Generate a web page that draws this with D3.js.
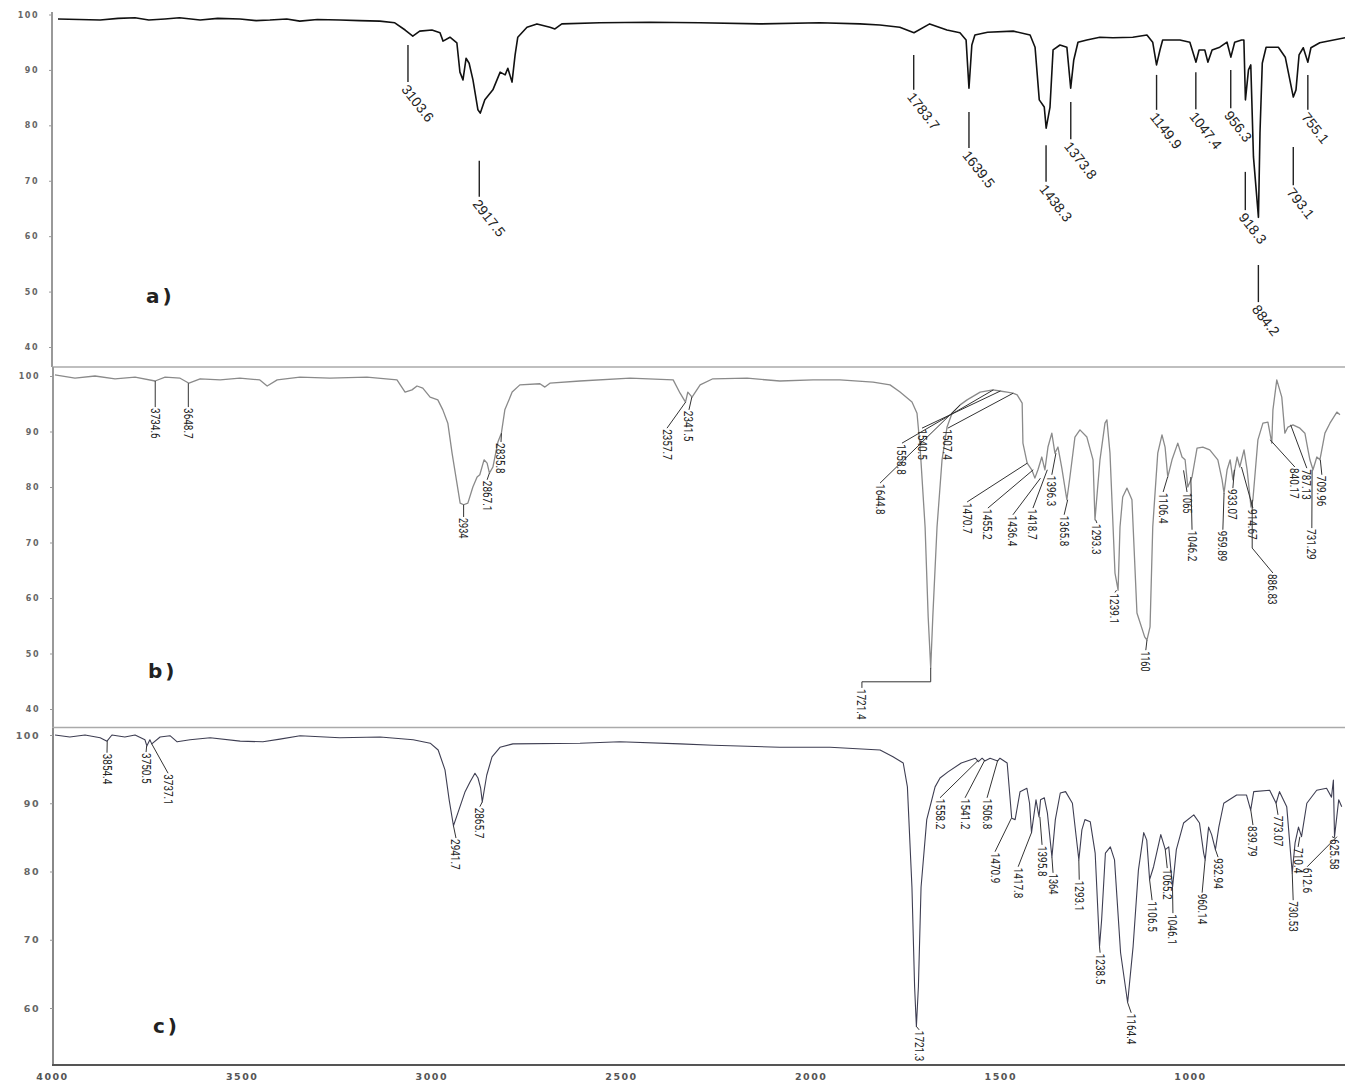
<!DOCTYPE html>
<html>
<head>
<meta charset="utf-8">
<script src="https://cdn.jsdelivr.net/npm/d3@7"></script>
<style>
  body { margin: 0; background: #fff; }
  .tick-y text { font-family: 'DejaVu Sans', Verdana, sans-serif; font-weight: bold; fill: #666; }
  .tick-x text { font-family: 'DejaVu Sans', Verdana, sans-serif; font-weight: bold; fill: #555; }
  .pk { font-family: 'Liberation Sans Narrow', 'Arial Narrow', Roboto, sans-serif; font-size: 13px; fill: #222; }
  .pka { font-family: 'Liberation Sans', Arial, sans-serif; font-size: 14px; fill: #222; }
  .panel-name { font-family: 'DejaVu Sans', Verdana, sans-serif; font-weight: bold; font-size: 20px; fill: #222; letter-spacing: 3px; }
</style>
</head>
<body>
<div id="graf"></div>
<script>
// I. Datos
wavenumberTicks = [4000, 3500, 3000, 2500, 2000, 1500, 1000]
ticksA = [100, 90, 80, 70, 60, 50, 40]
ticksB = [100, 90, 80, 70, 60, 50, 40]
ticksC = [100, 90, 80, 70, 60]

// [wavenumber, %T]
spectrumA = [
  [4017,99.2],[3907,99.0],[3860,99.3],[3816,99.4],[3780,99.0],[3738,99.2],[3700,99.4],[3646,99.0],[3600,99.3],
  [3542,99.2],[3500,98.9],[3464,99.0],[3420,99.2],[3386,98.8],[3340,99.1],[3281,99.0],[3230,98.9],[3177,98.8],
  [3138,98.5],[3111,97.2],[3091,96.1],[3073,97.0],[3041,97.2],[3020,96.7],[3012,95.2],[2994,95.9],[2976,94.9],
  [2968,89.6],[2960,88.2],[2952,92.1],[2944,91.2],[2934,88.2],[2921,82.8],[2915,82.2],[2903,84.6],[2882,86.4],
  [2863,89.6],[2850,89.1],[2843,90.3],[2832,87.8],[2824,92.7],[2817,95.9],[2793,97.7],[2767,98.3],[2733,97.7],
  [2720,97.4],[2702,98.3],[2603,98.5],[2472,98.6],[2342,98.5],[2185,98.3],[2029,98.5],[1924,98.3],[1872,98.1],
  [1820,97.7],[1783,96.7],[1742,98.3],[1697,97.2],[1663,96.7],[1647,95.4],[1639.5,86.7],[1632,94.5],[1624,96.3],
  [1591,96.8],[1524,97.0],[1480,96.3],[1467,94.1],[1456,84.6],[1443,83.3],[1438,79.5],[1428,83.3],[1420,93.6],
  [1402,94.5],[1384,94.1],[1374,86.7],[1366,91.8],[1355,95.0],[1332,95.4],[1298,95.9],[1264,95.8],[1212,95.9],
  [1175,96.3],[1160,95.0],[1150,90.9],[1141,93.6],[1134,95.4],[1089,95.4],[1063,95.0],[1047,91.4],[1039,93.6],
  [1024,93.6],[1016,91.4],[1005,93.6],[985,94.1],[966,95.0],[956,92.3],[946,95.0],[928,95.4],[922,95.4],
  [918,84.6],[910,90.0],[904,90.9],[897,74.3],[884,63.4],[880,78.6],[874,91.2],[864,94.1],[832,94.1],
  [814,92.3],[793,85.1],[786,86.4],[778,92.7],[767,94.0],[755,91.4],[747,94.0],[724,94.9],[658,95.8]
]

spectrumB = [
  [3995,100.2],[3943,99.6],[3891,100.0],[3839,99.5],[3787,99.8],[3735,99.1],[3709,99.8],[3670,99.6],[3647,98.7],
  [3618,99.5],[3566,99.3],[3515,99.6],[3463,99.3],[3444,98.2],[3418,99.3],[3359,99.8],[3281,99.6],[3185,99.8],
  [3107,99.3],[3086,97.1],[3068,97.5],[3055,98.2],[3040,97.8],[3021,96.2],[3001,95.7],[2988,93.9],[2975,91.5],
  [2964,86.1],[2943,77.1],[2934,76.8],[2923,77.1],[2910,80.0],[2899,81.8],[2892,82.2],[2881,84.9],[2873,84.3],
  [2867,82.5],[2858,83.6],[2845,88.1],[2836,89.7],[2827,93.9],[2808,97.1],[2788,98.4],[2736,98.6],[2723,98.0],
  [2710,98.7],[2632,99.1],[2502,99.6],[2390,99.3],[2372,96.9],[2358,95.3],[2352,97.1],[2341,96.2],[2320,98.4],
  [2287,99.5],[2198,99.6],[2113,99.1],[2027,99.3],[1957,99.3],[1871,98.9],[1827,98.4],[1801,97.1],[1770,95.3],
  [1757,93.3],[1749,87.2],[1736,72.8],[1728,56.6],[1721.4,47.4],[1716,56.6],[1705,72.8],[1692,84.9],[1679,90.8],
  [1666,93.3],[1645,94.8],[1627,95.7],[1593,97.1],[1560,97.5],[1542,97.3],[1523,97.1],[1508,96.9],[1497,96.6],
  [1484,95.1],[1482,87.9],[1471,84.3],[1459,83.1],[1451,81.6],[1443,83.1],[1433,85.4],[1425,83.1],[1417,87.2],
  [1407,89.7],[1399,86.1],[1391,87.2],[1381,83.4],[1368,77.7],[1360,81.8],[1347,89.0],[1334,90.3],[1316,89.0],
  [1300,84.9],[1295,74.1],[1282,84.9],[1269,91.5],[1264,92.1],[1256,86.1],[1243,64.5],[1235,61.4],[1230,72.8],
  [1223,78.2],[1212,79.8],[1199,77.7],[1186,57.3],[1166,53.0],[1160,52.4],[1152,54.8],[1145,72.8],[1132,86.1],
  [1121,89.4],[1113,87.2],[1106,81.8],[1095,84.9],[1080,87.9],[1069,85.4],[1061,84.9],[1054,80.0],[1043,81.8],
  [1030,87.0],[1015,87.2],[997,86.7],[976,84.9],[965,81.3],[960,78.9],[952,83.1],[944,84.9],[937,81.3],
  [926,85.4],[919,83.6],[908,86.7],[900,83.1],[890,76.4],[885,77.7],[872,88.5],[859,91.5],[846,91.7],
  [836,87.9],[833,93.9],[823,99.3],[810,96.2],[802,89.7],[794,90.8],[781,91.2],[763,90.6],[750,89.7],
  [742,86.7],[737,84.9],[729,83.1],[719,85.4],[711,84.9],[698,89.7],[685,91.5],[667,93.5],[659,93.0]
]

spectrumC = [
  [3992,100.0],[3953,99.7],[3913,100.0],[3873,99.6],[3855,99.1],[3842,100.0],[3808,99.7],[3781,100.0],[3755,99.3],
  [3750,98.4],[3742,99.3],[3737,98.7],[3715,99.7],[3689,99.9],[3670,99.0],[3636,99.3],[3583,99.6],[3504,99.1],
  [3444,99.0],[3399,99.4],[3346,99.9],[3241,99.6],[3135,99.7],[3048,99.3],[3003,98.8],[2982,97.8],[2964,94.9],
  [2953,90.5],[2941.7,86.7],[2930,88.6],[2911,91.7],[2898,93.1],[2885,94.4],[2877,93.7],[2870,92.2],[2865.7,90.2],
  [2854,94.1],[2840,96.8],[2819,98.2],[2785,98.7],[2608,98.8],[2503,99.0],[2344,98.7],[2257,98.5],[2081,98.2],
  [1949,98.2],[1817,97.8],[1783,96.8],[1756,95.9],[1745,92.4],[1733,77.7],[1726,63.1],[1721.3,57.3],[1716,63.1],
  [1709,77.7],[1694,87.6],[1672,92.4],[1659,93.7],[1638,94.6],[1603,95.9],[1566,96.6],[1558,96.1],[1548,96.6],
  [1541,96.2],[1527,96.6],[1507,96.2],[1501,96.6],[1482,95.9],[1470,87.8],[1461,87.6],[1448,91.7],[1430,92.2],
  [1423,90.0],[1417.8,85.7],[1406,90.5],[1398,88.0],[1394,90.5],[1384,90.8],[1376,88.6],[1364,82.1],[1355,87.6],
  [1342,91.5],[1328,91.7],[1310,90.0],[1300,85.1],[1293,81.7],[1285,86.1],[1277,87.6],[1263,87.3],[1250,82.7],
  [1238.5,69.0],[1233,72.9],[1223,82.7],[1210,83.6],[1199,81.7],[1183,68.1],[1164.4,60.8],[1150,69.0],[1136,80.2],
  [1122,85.7],[1114,84.6],[1106.5,78.8],[1096,80.7],[1088,82.7],[1077,85.4],[1065,83.2],[1056,83.6],[1046,77.7],
  [1036,83.2],[1017,87.1],[990,88.3],[975,87.1],[964,82.7],[960,81.7],[951,86.5],[943,85.4],[933,83.2],
  [924,86.5],[911,90.0],[877,91.2],[851,91.2],[840,89.0],[832,91.7],[790,91.9],[773,90.0],[764,91.7],
  [745,89.5],[730.5,79.8],[723,84.2],[714,86.5],[706,85.1],[692,90.0],[666,91.9],[640,92.2],[627,90.9],
  [622,93.4],[619,85.1],[608,90.5],[600,89.5]
]

// peak labels a): [text, wavenumber, %T top of tick, %T bottom of tick]
peaksA = [
  ['3103.6', 3103.6, 94.5, 87.8], ['2917.5', 2917.5, 73.6, 67.1], ['1783.7', 1783.7, 92.7, 86.4],
  ['1639.5', 1639.5, 82.4, 75.9], ['1438.3', 1438.3, 76.4, 69.8], ['1373.8', 1373.8, 84.2, 77.5],
  ['1149.9', 1149.9, 89.1, 82.8], ['1047.4', 1047.4, 89.6, 82.9], ['956.3', 956.3, 90.0, 83.1],
  ['918.3', 918.3, 71.6, 64.7], ['884.2', 884.2, 54.8, 48.1], ['793.1', 793.1, 76.1, 69.2],
  ['755.1', 755.1, 89.1, 82.8]
]

// peak labels b), c): [text, peak wn, peak %T, label wn, label %T, elbow points]
peaksB = [
  ['3734.6', 3734.6, 99.1, 3734.6, 94.4], ['3648.7', 3648.7, 98.7, 3648.7, 94.4],
  ['2934', 2934, 76.8, 2934, 74.6], ['2867.1', 2867.1, 82.5, 2873, 81.3], ['2835.8', 2835.8, 89.7, 2837, 88.1],
  ['2357.7', 2357.7, 95.3, 2406, 90.6], ['2341.5', 2341.5, 96.2, 2349, 93.9],
  ['1721.4', 1721.4, 47.4, 1900, 43.8, [[1721.4, 44.9], [1900, 44.9]]],
  ['1644.8', 1644.8, 94.8, 1853, 80.7], ['1558.8', 1558.8, 97.5, 1796, 87.9],
  ['1540.5', 1540.5, 97.3, 1744, 90.6], ['1507.4', 1507.4, 96.9, 1677, 90.6],
  ['1470.7', 1470.7, 84.3, 1627, 77.3], ['1455.2', 1455.2, 83.1, 1573, 76.2],
  ['1436.4', 1436.4, 81.6, 1508, 75.0], ['1418.7', 1418.7, 83.1, 1456, 76.2],
  ['1396.3', 1396.3, 86.1, 1407, 82.2], ['1365.8', 1365.8, 77.7, 1375, 75.0],
  ['1293.3', 1293.3, 74.1, 1290, 73.5], ['1239.1', 1239.1, 61.4, 1243, 61.0],
  ['1160', 1160, 52.4, 1163, 50.6], ['1106.4', 1106.4, 81.8, 1118, 79.1],
  ['1065', 1065, 83.0, 1056, 79.1], ['1046.2', 1046.2, 81.8, 1043, 72.3],
  ['959.89', 959.89, 78.9, 963, 72.3], ['933.07', 933.07, 83.1, 937, 79.8],
  ['914.67', 914.67, 83.6, 885, 76.2],
  ['886.83', 886.83, 77.7, 833, 64.5, [[886.83, 69.0]]],
  ['840.17', 840.17, 88.5, 776, 83.6], ['787.13', 787, 91.2, 745, 83.4],
  ['731.29', 731.29, 83.1, 732, 72.6], ['709.96', 709.96, 84.9, 706, 82.2]
]

peaksC = [
  ['3854.4', 3854.4, 99.1, 3855, 97.4], ['3750.5', 3750.5, 98.4, 3752, 97.5], ['3737.1', 3737.1, 98.7, 3694, 94.4],
  ['2941.7', 2941.7, 86.7, 2935, 84.9], ['2865.7', 2865.7, 90.2, 2872, 89.5],
  ['1721.3', 1721.3, 57.3, 1714, 56.8],
  ['1558.2', 1558.2, 96.3, 1659, 90.8], ['1541.2', 1541.2, 96.3, 1593, 90.8], ['1506.8', 1506.8, 96.3, 1535, 90.8],
  ['1470.9', 1470.9, 87.8, 1514, 82.9], ['1417.8', 1417.8, 85.7, 1453, 80.7], ['1395.8', 1395.8, 88.0, 1390, 83.9],
  ['1364', 1364, 82.1, 1361, 79.8], ['1293.1', 1293.1, 81.7, 1292, 78.8], ['1238.5', 1238.5, 69.0, 1237, 68.1],
  ['1164.4', 1164.4, 60.8, 1155, 59.3], ['1106.5', 1106.5, 78.8, 1100, 75.8], ['1065.2', 1065.2, 83.2, 1060, 80.5],
  ['1046.1', 1046.1, 77.7, 1045, 73.9], ['960.14', 960.14, 81.7, 968, 76.9], ['932.94', 932.94, 83.2, 926, 82.1],
  ['839.79', 839.79, 89.0, 834, 86.8], ['773.07', 773.07, 90.0, 768, 88.3], ['730.53', 730.53, 79.8, 728, 75.8],
  ['710.4', 710.4, 85.1, 715, 83.6], ['625.58', 625.58, 85.1, 618, 84.9], ['612.6', 612.6, 85.1, 691, 80.7]
]

// II. Configuración
ancho_total = 1345
alto_total = 1085

svg = d3.select('#graf').append('svg')
  .attr('width', ancho_total)
  .attr('height', alto_total)
  .style('display', 'block')

xA = d3.scaleLinear().domain([4000, 1000]).range([64.5, 1214])
xB = d3.scaleLinear().domain([4000, 1000]).range([53, 1208.6])
xC = d3.scaleLinear().domain([4000, 1000]).range([52, 1190])
yA = d3.scaleLinear().domain([100, 40]).range([14.5, 347])
yB = d3.scaleLinear().domain([100, 40]).range([376, 709])
yC = d3.scaleLinear().domain([100, 60]).range([735, 1008])

// frames
frame = svg.append('g')
frame.append('line').attr('x1', 52).attr('x2', 52).attr('y1', 12).attr('y2', 367).attr('stroke', '#999').attr('stroke-width', 2)
frame.append('line').attr('x1', 52).attr('x2', 1345).attr('y1', 367).attr('y2', 367).attr('stroke', '#aaa').attr('stroke-width', 1.5)
frame.append('line').attr('x1', 53).attr('x2', 53).attr('y1', 367).attr('y2', 728).attr('stroke', '#999').attr('stroke-width', 2)
frame.append('line').attr('x1', 52).attr('x2', 1345).attr('y1', 727.5).attr('y2', 727.5).attr('stroke', '#aaa').attr('stroke-width', 1.5)
frame.append('line').attr('x1', 53).attr('x2', 53).attr('y1', 728).attr('y2', 1065).attr('stroke', '#888').attr('stroke-width', 2)
frame.append('line').attr('x1', 52).attr('x2', 1345).attr('y1', 1065).attr('y2', 1065).attr('stroke', '#555').attr('stroke-width', 2)

// III. Ejes
function yAxis(scale, ticks, xpos, size) {
  g = svg.append('g')
    .attr('class', 'tick-y')
    .attr('transform', `translate(${xpos}, 0)`)
    .call(d3.axisLeft(scale).tickValues(ticks).tickSize(3).tickPadding(10))
  g.select('.domain').remove()
  g.selectAll('line').attr('stroke', '#999')
  g.selectAll('text').style('font-size', size + 'px').style('letter-spacing', '1.5px')
}
yAxis(yA, ticksA, 52, 8)
yAxis(yB, ticksB, 53, 8)
yAxis(yC, ticksC, 53, 9.5)

xAxisGroup = svg.append('g')
  .attr('class', 'tick-x')
  .attr('transform', 'translate(0, 1065)')
  .call(d3.axisBottom(xC).tickValues(wavenumberTicks).tickFormat(d3.format('d')).tickSize(0).tickPadding(8))
xAxisGroup.select('.domain').remove()
xAxisGroup.selectAll('text').style('font-size', '9.5px').style('letter-spacing', '1.5px')

// IV. Espectros
function trace(data, x, y, color, width) {
  line = d3.line().x(d => x(d[0])).y(d => y(d[1]))
  svg.append('path')
    .datum(data)
    .attr('d', line)
    .attr('fill', 'none')
    .attr('stroke', color)
    .attr('stroke-width', width)
    .attr('stroke-linejoin', 'round')
}
trace(spectrumA, xA, yA, '#111', 1.6)
trace(spectrumB, xB, yB, '#8a8a8a', 1.3)
trace(spectrumC, xC, yC, '#3e3e52', 1.1)

// V. Etiquetas de picos
gA = svg.append('g')
peaksA.forEach(d => {
  gA.append('line')
    .attr('x1', xA(d[1])).attr('x2', xA(d[1]))
    .attr('y1', yA(d[2])).attr('y2', yA(d[3]))
    .attr('stroke', '#222').attr('stroke-width', 1.4)
  gA.append('text')
    .attr('class', 'pka')
    .attr('transform', `translate(${xA(d[1]) + 1}, ${yA(d[3]) + 1}) rotate(52)`)
    .attr('dominant-baseline', 'hanging')
    .text(d[0])
})

function verticalLabels(peaks, x, y, color) {
  g = svg.append('g')
  peaks.forEach(d => {
    pts = [[d[1], d[2]]].concat(d[5] || []).concat([[d[3], d[4]]])
    g.append('path')
      .attr('d', d3.line().x(p => x(p[0])).y(p => y(p[1]))(pts))
      .attr('fill', 'none')
      .attr('stroke', color)
      .attr('stroke-width', 1)
    g.append('text')
      .attr('class', 'pk')
      .attr('transform', `translate(${x(d[3])}, ${y(d[4]) + 1}) rotate(90)`)
      .attr('dominant-baseline', 'central')
      .attr('textLength', d[0].length * 5.1)
      .attr('lengthAdjust', 'spacingAndGlyphs')
      .text(d[0])
  })
}
verticalLabels(peaksB, xB, yB, '#333')
verticalLabels(peaksC, xC, yC, '#333')

// VI. Nombres de panel
svg.append('text').attr('class', 'panel-name').attr('x', 146).attr('y', 303).text('a)')
svg.append('text').attr('class', 'panel-name').attr('x', 148).attr('y', 678).text('b)')
svg.append('text').attr('class', 'panel-name').attr('x', 153).attr('y', 1033).text('c)')
</script>
</body>
</html>
